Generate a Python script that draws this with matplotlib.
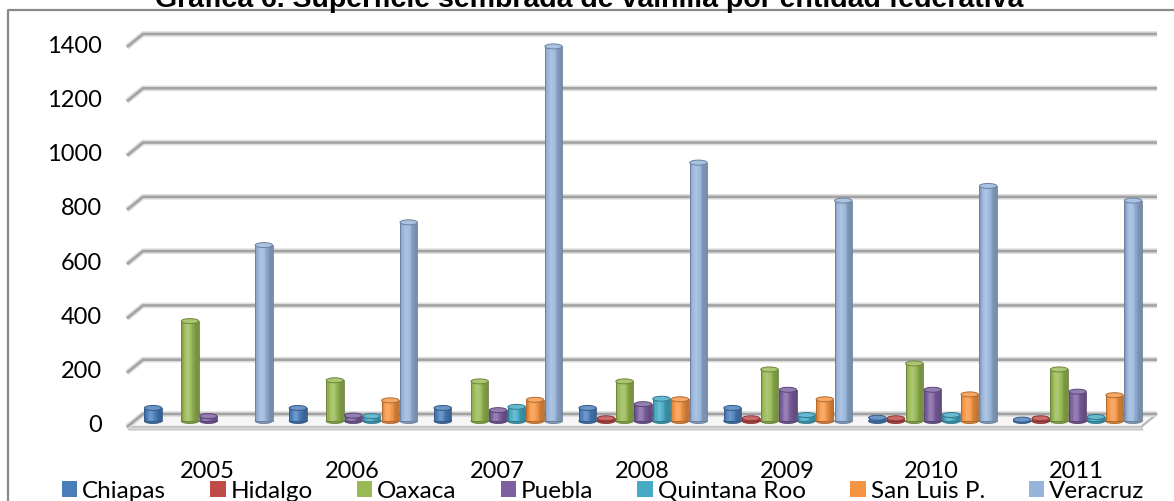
import numpy as np
import matplotlib
matplotlib.use("Agg")
import matplotlib.pyplot as plt
from matplotlib.patches import Rectangle, Ellipse, Polygon, Patch
from matplotlib.lines import Line2D
from matplotlib.transforms import ScaledTranslation, IdentityTransform
from matplotlib.colors import to_rgb

# ---- data: sown vanilla area by state (ha) ----
years = ["2005", "2006", "2007", "2008", "2009", "2010", "2011"]
states = ["Chiapas", "Hidalgo", "Oaxaca", "Puebla", "Quintana Roo", "San Luis P.", "Veracruz"]
chiapas = [48, 48, 48, 48, 48, 12, 5]
hidalgo = [0, 0, 0, 10, 10, 10, 10]
oaxaca = [368, 150, 146, 146, 190, 212, 190]
puebla = [18, 20, 40, 62, 115, 115, 108]
quintana_roo = [0, 18, 52, 82, 22, 22, 15]
san_luis = [0, 76, 78, 80, 80, 98, 95]
veracruz = [648, 732, 1380, 952, 812, 866, 812]
yticks = [0, 200, 400, 600, 800, 1000, 1200, 1400]

series = [chiapas, hidalgo, oaxaca, puebla, quintana_roo, san_luis, veracruz]
colors = ["#4A7EBB", "#BE4B48", "#98B954", "#7D60A0", "#46AAC5", "#F59543", "#97B4DA"]

title = "Gráfica 6. Superficie sembrada de vainilla por entidad federativa"

W, H = 1174, 501
fig = plt.figure(figsize=(W / 100, H / 100), dpi=100)
fig.patch.set_facecolor("white")

# back wall of the 3D plot area
ax = fig.add_axes([143 / W, 1 - 414 / H, (1157 - 143) / W, (414 - 34) / H])
ax.set_xlim(-0.5, 6.5)
ax.set_ylim(0, 1400)
ax.axis("off")

FONT = ["Lato", "DejaVu Sans"]
IDT = IdentityTransform()


def shifted(dx, dy):
    """Data transform moved by (dx, dy) pixels (depth offset)."""
    return ax.transData + ScaledTranslation(dx / 100, dy / 100, fig.dpi_scale_trans)


def disp(x, y, dx=0, dy=0):
    px, py = ax.transData.transform((x, y))
    return px + dx, py + dy


FRONT = (-16, -13)
MID = (-7, -7)
x0, x1 = ax.get_xlim()

# floor slab
floor = [disp(x0, 0), disp(x1, 0), disp(x1, 0, *FRONT), disp(x0, 0, *FRONT)]
ax.add_patch(Polygon(floor, closed=True, transform=IDT, facecolor="#f6f6f6",
                     edgecolor="#b8b8b8", lw=1.6, zorder=1, clip_on=False))
fl = [disp(x0, 0, *FRONT), disp(x1, 0, *FRONT), disp(x1, 0, FRONT[0] + 2, FRONT[1] - 3),
      disp(x0, 0, FRONT[0] + 2, FRONT[1] - 3)]
ax.add_patch(Polygon(fl, closed=True, transform=IDT, facecolor="#d6d6d6",
                     edgecolor="#c4c4c4", lw=0.8, zorder=1, clip_on=False))

# gridlines: back line plus a diagonal towards the front-left corner
for v in yticks:
    pts = [disp(x0, v, *FRONT), disp(x0, v), disp(x1, v)]
    xs, ys = zip(*pts)
    ax.add_line(Line2D(xs, ys, transform=IDT, color="#dcdcdc", lw=4.0,
                       solid_capstyle="butt", zorder=2, clip_on=False))
    ax.add_line(Line2D(xs, ys, transform=IDT, color="#a2a2a2", lw=1.8,
                       solid_capstyle="butt", zorder=2.1, clip_on=False))
    ax.text(x0, v, str(v), transform=shifted(-41, -12), ha="right", va="center",
            fontsize=17, family=FONT, color="#000000", clip_on=False)


def tone(c, f):
    c = np.array(to_rgb(c))
    if f >= 1:
        return tuple(c + (1 - c) * min(f - 1, 1))
    return tuple(c * f)


# bars as shaded cylinders
n = len(series)
slot = 0.1275
bw = 0.12
eh = 5 / (380 / 1400)  # cap height in data units (5 px)
tmid = shifted(*MID)
strips = 14
for si, (vals, col) in enumerate(zip(series, colors)):
    for gi, v in enumerate(vals):
        if v <= 0:
            continue
        xc = gi + (si - (n - 1) / 2) * slot
        left = xc - bw / 2
        z = 5 + gi * 0.1
        sw = bw / strips
        for k in range(strips):
            t = (k + 0.5) / strips
            f = 0.78 + 0.42 * np.exp(-((t - 0.38) / 0.28) ** 2)
            ax.add_patch(Rectangle((left + k * sw, 0), sw * 1.02, v, transform=tmid,
                                   facecolor=tone(col, f), edgecolor="none",
                                   clip_on=False, zorder=z))
        ax.add_patch(Rectangle((left, 0), bw, v, transform=tmid, facecolor="none",
                               edgecolor=tone(col, 0.7), lw=0.6, clip_on=False, zorder=z))
        ax.add_patch(Ellipse((xc, 0), bw, eh, transform=tmid, facecolor=tone(col, 0.85),
                             edgecolor=tone(col, 0.7), lw=0.6, clip_on=False, zorder=z - 0.01))
        ax.add_patch(Ellipse((xc, v), bw, eh, transform=tmid, facecolor=tone(col, 1.18),
                             edgecolor=tone(col, 0.72), lw=0.7, clip_on=False, zorder=z + 0.01))

# category labels along the front edge
for gi, yr in enumerate(years):
    ax.text(gi, 0, yr, transform=shifted(-8, -58), ha="center", va="center",
            fontsize=17, family=FONT, color="#000000", clip_on=False)

# legend
handles = [Patch(facecolor=c, edgecolor="none") for c in colors]
fig.legend(handles, states, loc="center", bbox_to_anchor=(603 / W, 1 - 491 / H),
           ncol=7, frameon=False, prop={"family": FONT, "size": 17.5},
           handlelength=0.65, handleheight=0.65, handletextpad=0.2,
           columnspacing=1.8, borderpad=0, borderaxespad=0)

# chart frame
fig.lines.append(Line2D([8, 8, W + 5], [-5, H - 9.5, H - 9.5], transform=IDT,
                        color="#8a8a8a", lw=1.6, zorder=0))

# title (top part runs off the canvas)
fig.text(589 / W, 1 - 7 / H, title, ha="center", va="baseline", fontsize=20.5,
         fontweight="bold", family=["Liberation Sans", "DejaVu Sans"])

fig.savefig("out.png", dpi=100)
